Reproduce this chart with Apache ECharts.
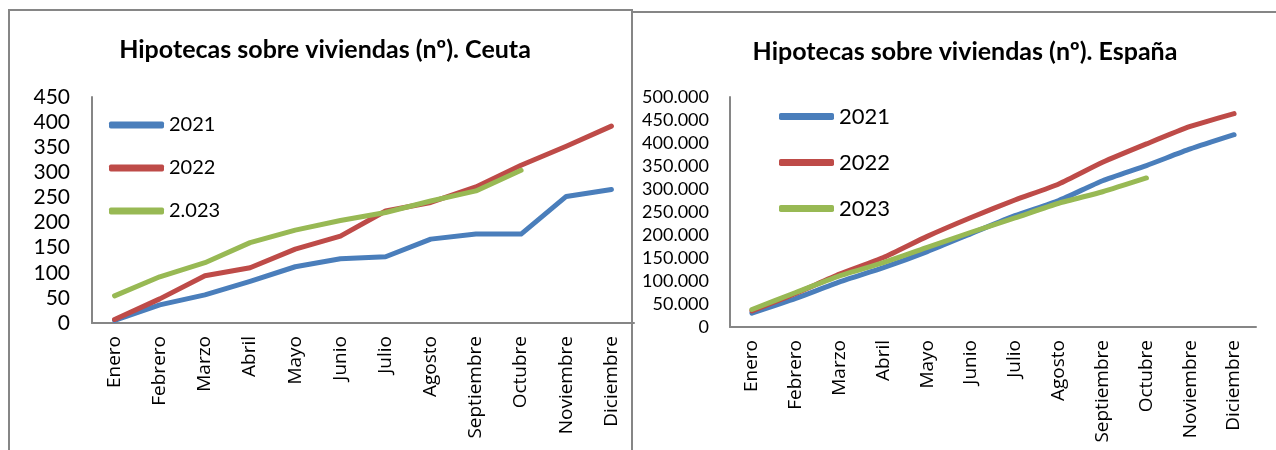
<!DOCTYPE html>
<html>
<head>
<meta charset="utf-8">
<script src="https://cdn.jsdelivr.net/npm/echarts@6/dist/echarts.min.js"></script>
<style>
  html, body { margin: 0; padding: 0; background: #fff; }
  #chart { width: 1276px; height: 450px; }
</style>
</head>
<body>
<div id="chart"></div>
<script>
var meses = ['Enero', 'Febrero', 'Marzo', 'Abril', 'Mayo', 'Junio', 'Julio',
    'Agosto', 'Septiembre', 'Octubre', 'Noviembre', 'Diciembre'];

// Ceuta
var ceuta2021 = [5, 36, 56, 83, 112, 128, 132, 167, 177, 177, 252, 266];
var ceuta2022 = [7, 48, 94, 110, 147, 173, 223, 240, 271, 314, 352, 392];
var ceuta2023 = [54, 92, 120, 160, 185, 204, 220, 243, 263, 304];

// España
var espana2021 = [30000, 62000, 98000, 129000, 164000, 203000, 242000, 275000, 318000, 351000, 387000, 418000];
var espana2022 = [35000, 73000, 115000, 151000, 197000, 238000, 276000, 311000, 358000, 398000, 436000, 464000];
var espana2023 = [38000, 75000, 111000, 140000, 173000, 206000, 237000, 269000, 294000, 324000];

var colores = ['#4a7ebb', '#be4b48', '#98b954'];
var fuente = 'Lato';
var fuenteEje = 'Open Sans';

function puntos(v) {
    return String(v).replace(/\B(?=(\d{3})+(?!\d))/g, '.');
}

function ejeX(idx) {
    return {
        type: 'category',
        gridIndex: idx,
        data: meses,
        axisLine: { lineStyle: { color: '#868686', width: 2 } },
        axisTick: { show: false },
        axisLabel: {
            rotate: 90,
            interval: 0,
            margin: 13,
            color: '#000',
            fontFamily: fuenteEje,
            fontSize: 19
        }
    };
}

function serie(nombre, datos, color, idx, suave) {
    return {
        name: nombre,
        type: 'line',
        xAxisIndex: idx,
        yAxisIndex: idx,
        data: datos,
        symbol: 'none',
        smooth: suave,
        lineStyle: { width: 5, color: color, cap: 'round', join: 'round' },
        itemStyle: { color: color }
    };
}

var option = {
    animation: false,
    title: [{
        text: 'Hipotecas sobre viviendas (nº). Ceuta',
        left: 320,
        top: 32,
        textAlign: 'center',
        textStyle: { fontFamily: fuente, fontWeight: 'bold', fontSize: 25, color: '#000' }
    }, {
        text: 'Hipotecas sobre viviendas (nº). España',
        left: 960,
        top: 34,
        textAlign: 'center',
        textStyle: { fontFamily: fuente, fontWeight: 'bold', fontSize: 25, color: '#000' }
    }],
    legend: [{
        data: ['2021', '2022', '2.023'],
        orient: 'vertical',
        left: 104,
        top: 109,
        itemGap: 21,
        itemWidth: 55,
        itemHeight: 7,
        icon: 'roundRect',
        textStyle: { fontFamily: fuente, fontSize: 20, lineHeight: 22, color: '#000' }
    }, {
        data: ['2021', '2022', '2023'],
        orient: 'vertical',
        left: 774,
        top: 99,
        itemGap: 21,
        itemWidth: 55,
        itemHeight: 7,
        icon: 'roundRect',
        textStyle: { fontFamily: fuente, fontSize: 22, lineHeight: 25, color: '#000' }
    }],
    grid: [
        { left: 92, right: 642, top: 97, bottom: 127 },
        { left: 730, right: 20, top: 97, bottom: 123 }
    ],
    xAxis: [ejeX(0), ejeX(1)],
    yAxis: [{
        type: 'value',
        gridIndex: 0,
        min: 0,
        max: 450,
        interval: 50,
        splitLine: { show: false },
        axisLine: { show: true, lineStyle: { color: '#868686', width: 2 } },
        axisTick: { show: false },
        axisLabel: { margin: 22, color: '#000', fontFamily: fuente, fontSize: 21 }
    }, {
        type: 'value',
        gridIndex: 1,
        min: 0,
        max: 500000,
        interval: 50000,
        splitLine: { show: false },
        axisLine: { show: true, lineStyle: { color: '#868686', width: 2 } },
        axisTick: { show: false },
        axisLabel: {
            margin: 21,
            color: '#000',
            fontFamily: fuente,
            fontSize: 18,
            formatter: function(v) { return puntos(v); }
        }
    }],
    graphic: [{
        type: 'rect',
        shape: { x: 9, y: 10, width: 623, height: 470 },
        style: { fill: 'none', stroke: '#868686', lineWidth: 2 },
        silent: true
    }, {
        type: 'line',
        shape: { x1: 632, y1: 12, x2: 1280, y2: 12 },
        style: { stroke: '#868686', lineWidth: 2 },
        silent: true
    }],
    series: [
        serie('2021', ceuta2021, colores[0], 0, false),
        serie('2022', ceuta2022, colores[1], 0, false),
        serie('2.023', ceuta2023, colores[2], 0, false),
        serie('2021', espana2021, colores[0], 1, 0.2),
        serie('2022', espana2022, colores[1], 1, 0.2),
        serie('2023', espana2023, colores[2], 1, 0.2)
    ]
};

echarts.init(document.getElementById('chart')).setOption(option);
</script>
</body>
</html>
